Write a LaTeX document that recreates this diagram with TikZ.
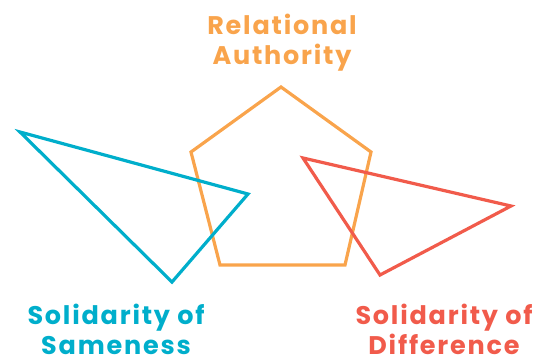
\documentclass[tikz,border=0pt]{standalone}
\usepackage{fontspec}
\setmainfont{Poppins}[LetterSpace=7]
\usepackage{tikz}

\definecolor{authority}{HTML}{F9A44C}
\definecolor{sameness}{HTML}{00AECB}
\definecolor{difference}{HTML}{F15B4B}

\tikzset{
	shapeline/.style={line width=3.2pt, line join=miter},
	label/.style={font=\fontsize{25.5}{30}\selectfont\bfseries, align=center, anchor=base, inner sep=0pt},
}

\begin{document}
\begin{tikzpicture}[x=1pt, y=-1pt]
		\useasboundingbox (0,0) rectangle (538,364);

		% pentagon: relational authority
		\coordinate (p1) at (281, 87);
		\coordinate (p2) at (371, 152);
		\coordinate (p3) at (345, 265);
		\coordinate (p4) at (220, 265);
		\coordinate (p5) at (191, 152);

		% triangle: solidarity of sameness
		\coordinate (s1) at (20, 132);
		\coordinate (s2) at (248, 194);
		\coordinate (s3) at (172, 282);

		% triangle: solidarity of difference
		\coordinate (d1) at (303, 158);
		\coordinate (d2) at (511, 206);
		\coordinate (d3) at (380, 275);

		\draw[shapeline, authority] (p1) -- (p2) -- (p3) -- (p4) -- (p5) -- cycle;
		\draw[shapeline, sameness] (s1) -- (s2) -- (s3) -- cycle;
		\draw[shapeline, difference] (d1) -- (d2) -- (d3) -- cycle;

		% labels (anchored on the baseline of the second line)
		\node[label, text=authority] (ra) at (282, 64) {Relational\\Authority};
		\node[label, text=sameness] (ss) at (116, 354) {Solidarity of\\Sameness};
		\node[label, text=difference] (sd) at (444, 354) {Solidarity of\\Difference};
	\end{tikzpicture}
\end{document}
